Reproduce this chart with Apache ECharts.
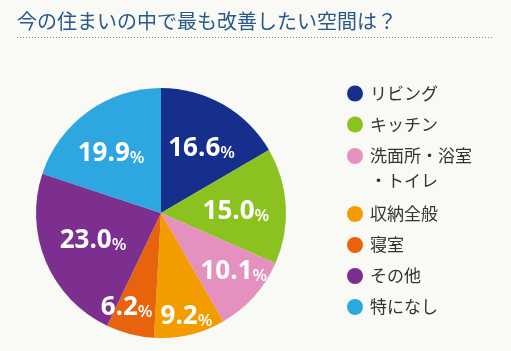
<!DOCTYPE html>
<html>
<head>
<meta charset="utf-8">
<script src="https://cdn.jsdelivr.net/npm/echarts@6/dist/echarts.min.js"></script>
<style>
  html, body { margin: 0; background: #f9f9f5; }
  #chart { width: 511px; height: 351px; }
</style>
</head>
<body>
<div id="chart"></div>
<script>
const titleText = '今の住まいの中で最も改善したい空間は？';
const categories = ['リビング', 'キッチン', '洗面所・浴室・トイレ', '収納全般', '寝室', 'その他', '特になし'];
const shares = [16.6, 15.0, 10.1, 9.2, 6.2, 23.0, 19.9];
const colors = ['#172f8c', '#8cc21f', '#e591bf', '#f39c00', '#e8640c', '#7d2f8f', '#2ea7e0'];

// where each percentage sits inside its slice (share of radius, angle nudge in deg)
const labelRadius = [0.62, 0.60, 0.74, 0.84, 0.79, 0.58, 0.63];
const labelNudge = [1.7, 0.9, -3.9, -0.7, 6, 2.7, -3.5];

const jpFont = '"Noto Sans CJK JP", "Noto Sans", sans-serif';
const numFont = '"Open Sans", "Noto Sans", sans-serif';
const center = [161, 213];
const radius = 125;
const total = shares.reduce((a, b) => a + b, 0);

const chart = echarts.init(document.getElementById('chart'));

const legendText = {
  fontFamily: jpFont,
  fontSize: 17,
  color: '#333',
  lineHeight: 25,
  padding: [0, 0, 0, 2]
};

// legend split in three blocks so the wrapped item keeps its dot on the first line
const legendBlock = (names, top, extra) => Object.assign({
  data: names,
  orient: 'vertical', left: 347, top: top, padding: 0,
  itemWidth: 16, itemHeight: 16, itemGap: 6, icon: 'circle',
  selectedMode: false,
  textStyle: legendText
}, extra || {});

chart.setOption({
  backgroundColor: '#f9f9f5',
  animation: false,
  title: {
    text: titleText,
    left: 17,
    top: 11,
    padding: 0,
    textStyle: { fontFamily: jpFont, fontSize: 20, fontWeight: 'normal', color: '#28598a' }
  },
  graphic: [{
    type: 'line',
    shape: { x1: 17, y1: 37.5, x2: 493, y2: 37.5 },
    style: { stroke: '#6f889c', lineWidth: 1, lineDash: [1, 2] },
    silent: true
  }],
  legend: [
    legendBlock(categories.slice(0, 2), 81),
    // empty first line keeps the dot level with "洗面所・浴室"
    legendBlock(categories.slice(2, 3), 118.5, {
      formatter: name => '\n' + name.slice(0, 6) + '\n' + name.slice(6)
    }),
    legendBlock(categories.slice(3), 201.5)
  ],
  series: [{
    type: 'pie',
    center: center,
    radius: radius,
    startAngle: 90,
    clockwise: true,
    silent: true,
    color: colors,
    data: categories.map((name, i) => ({ name: name, value: shares[i] })),
    label: {
      show: true,
      position: 'inside',
      formatter: p => '{n|' + p.value.toFixed(1) + '}{p|%}',
      rich: {
        n: { fontFamily: numFont, fontSize: 26, fontWeight: 'bold', color: '#fff', lineHeight: 30, verticalAlign: 'bottom' },
        p: { fontFamily: numFont, fontSize: 17, fontWeight: 600, color: '#fff', lineHeight: 24, verticalAlign: 'bottom' }
      }
    },
    labelLine: { show: false },
    labelLayout: function (p) {
      const i = p.dataIndex;
      let before = 0;
      for (let k = 0; k < i; k++) before += shares[k];
      const mid = (before + shares[i] / 2) / total * 360 + labelNudge[i];
      const rad = mid * Math.PI / 180;
      const r = radius * labelRadius[i];
      return {
        x: center[0] + r * Math.sin(rad),
        y: center[1] - r * Math.cos(rad),
        align: 'center',
        verticalAlign: 'middle'
      };
    }
  }]
});
</script>
</body>
</html>
